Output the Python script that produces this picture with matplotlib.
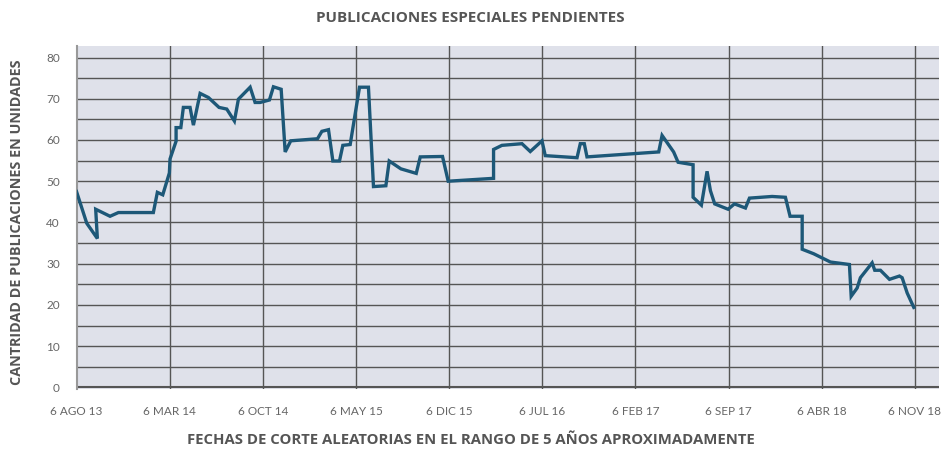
import matplotlib.pyplot as plt

# fechas de corte: posicion en unidades de "tick" (cada tick = 7 meses)
tick_labels = ["6 AGO 13", "6 MAR 14", "6 OCT 14", "6 MAY 15", "6 DIC 15",
               "6 JUL 16", "6 FEB 17", "6 SEP 17", "6 ABR 18", "6 NOV 18"]

x_pos = [0.0, 0.11, 0.224, 0.206, 0.36, 0.45, 0.825, 0.868, 0.926, 0.997,
         1.004, 1.069, 1.069, 1.12, 1.147, 1.219, 1.255, 1.327, 1.416, 1.53,
         1.613, 1.695, 1.738, 1.864, 1.917, 1.971, 2.071, 2.114, 2.197, 2.24,
         2.30, 2.587, 2.634, 2.705, 2.752, 2.823, 2.859, 2.938, 3.038, 3.134,
         3.188, 3.321, 3.357, 3.482, 3.647, 3.69, 3.929, 3.99, 4.477, 4.477,
         4.567, 4.782, 4.871, 4.997, 5.032, 5.373, 5.408, 5.451, 5.48, 6.25,
         6.286, 6.41, 6.458, 6.619, 6.619, 6.708, 6.769, 6.805, 6.851, 6.995,
         7.063, 7.181, 7.224, 7.467, 7.61, 7.66, 7.79, 7.79, 7.914, 8.093,
         8.297, 8.316, 8.38, 8.415, 8.541, 8.569, 8.63, 8.727, 8.834, 8.863,
         8.917, 8.988]

pendientes = [47.5, 39.8, 36.1, 43.2, 41.5, 42.4, 42.4, 47.3, 46.7, 52.0,
              55.4, 59.7, 63.0, 63.0, 67.9, 67.9, 63.6, 71.3, 70.3, 67.9,
              67.5, 64.6, 69.9, 72.8, 69.1, 69.1, 69.7, 72.9, 72.3, 57.1,
              59.8, 60.3, 62.1, 62.5, 54.9, 54.9, 58.7, 58.9, 72.8, 72.8,
              48.7, 48.9, 54.9, 53.0, 51.9, 55.9, 56.0, 50.0, 50.7, 57.7,
              58.7, 59.1, 57.2, 59.8, 56.2, 55.7, 59.1, 59.1, 55.9, 57.1,
              61.1, 57.1, 54.6, 54.0, 46.1, 44.2, 52.4, 47.7, 44.5, 43.2,
              44.5, 43.5, 45.9, 46.3, 46.1, 41.5, 41.5, 33.5, 32.4, 30.4,
              29.8, 22.1, 24.1, 26.6, 30.2, 28.4, 28.4, 26.2, 27.0, 26.6,
              22.9, 19.4]

y_ticks = [0, 10, 20, 30, 40, 50, 60, 70, 80]

plt.rcParams['font.family'] = ['Lato', 'DejaVu Sans']
title_font = ['Open Sans', 'DejaVu Sans']

fig = plt.figure(figsize=(9.41, 4.49), dpi=100)
ax = fig.add_axes([0.0813, 0.1336, 0.998 - 0.0813, 0.8976 - 0.1336])
ax.set_facecolor("#dfe1ea")

# rejilla
for xv in range(1, len(tick_labels)):
    ax.axvline(xv, color="#555555", lw=1.0, zorder=1)
for yv in range(5, 85, 5):
    ax.axhline(yv, color="#555555", lw=1.0, zorder=1)
ax.axhline(0, color="#555555", lw=1.5, zorder=1)

ax.plot(x_pos, pendientes, color="#1d5878", lw=2.4, zorder=3,
        solid_joinstyle="miter")

ax.set_xlim(0, 9.26)
ax.set_ylim(-0.4, 82.8)
ax.set_xticks(range(len(tick_labels)))
ax.set_xticklabels(tick_labels)
ax.set_yticks(y_ticks)
ax.tick_params(length=0, labelsize=8.5, labelcolor="#666666")
ax.tick_params(axis="x", pad=12)
ax.tick_params(axis="y", pad=12)

for side in ["top", "right", "bottom"]:
    ax.spines[side].set_visible(False)
ax.spines["left"].set_color("#999999")
ax.spines["left"].set_linewidth(1.5)

fig.text(0.5, 0.96, "PUBLICACIONES ESPECIALES PENDIENTES", ha="center",
         va="center", fontsize=11, fontweight="bold", color="#555555",
         family=title_font)
fig.text(0.5, 0.02, "FECHAS DE CORTE ALEATORIAS EN EL RANGO DE 5 AÑOS APROXIMADAMENTE",
         ha="center", va="center", fontsize=10.7, fontweight="bold", color="#555555",
         family=title_font)
fig.text(0.018, 0.505, "CANTRIDAD DE PUBLICACIONES EN UNIDADES", ha="center",
         va="center", rotation=90, fontsize=10.4, fontweight="bold", color="#555555",
         family=title_font)

fig.savefig("out.png", dpi=100)
